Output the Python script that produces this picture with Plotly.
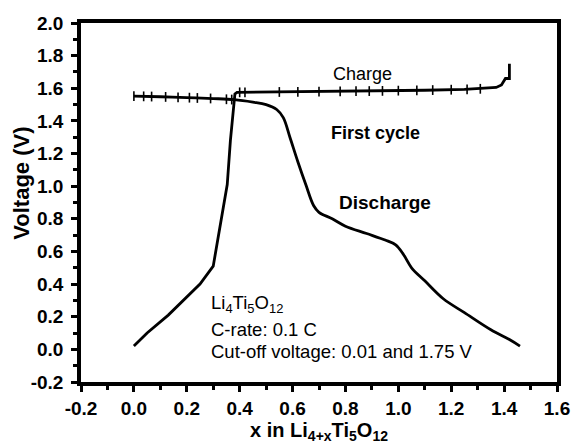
import numpy as np
import plotly.graph_objects as go

# Discharge curve (x increasing, voltage decreasing)
discharge_x = [0.0, 0.1, 0.2, 0.3, 0.38, 0.45, 0.5, 0.54, 0.565, 0.59, 0.62, 0.65, 0.68, 0.70,
               0.75, 0.80, 0.88, 0.95, 0.99, 1.02, 1.05, 1.10, 1.17, 1.25, 1.35, 1.42, 1.46]
discharge_y = [1.552, 1.548, 1.543, 1.537, 1.53, 1.515, 1.50, 1.47, 1.42, 1.30, 1.15, 1.01, 0.88, 0.84,
               0.80, 0.755, 0.71, 0.67, 0.64, 0.58, 0.50, 0.42, 0.31, 0.225, 0.12, 0.06, 0.02]

# Charge curve
charge_x = [0.0, 0.05, 0.13, 0.2, 0.25, 0.30, 0.31, 0.328, 0.353, 0.365, 0.378, 0.382, 0.39,
            0.6, 0.9, 1.1, 1.25, 1.33, 1.37, 1.39, 1.405, 1.42, 1.42]
charge_y = [0.02, 0.10, 0.21, 0.32, 0.40, 0.51, 0.60, 0.78, 1.01, 1.28, 1.50, 1.565, 1.575,
            1.578, 1.583, 1.588, 1.593, 1.598, 1.605, 1.62, 1.66, 1.66, 1.75]

# Positions of the small vertical tick markers along the plateaus
discharge_tick_x = [0.0, 0.037, 0.067, 0.12, 0.167, 0.21, 0.24, 0.29, 0.35, 0.37]
charge_tick_x = [0.40, 0.42, 0.55, 0.62, 0.70, 0.78, 0.84, 0.89, 0.94, 1.0, 1.07, 1.13, 1.20, 1.26, 1.31]

x_ticks = [-0.2, 0.0, 0.2, 0.4, 0.6, 0.8, 1.0, 1.2, 1.4, 1.6]
y_ticks = [-0.2, 0.0, 0.2, 0.4, 0.6, 0.8, 1.0, 1.2, 1.4, 1.6, 1.8, 2.0]

FONT = "Liberation Sans"
line_style = dict(color="black", width=2.8)

fig = go.Figure()
fig.add_trace(go.Scatter(x=discharge_x, y=discharge_y, mode="lines", line=line_style,
                         line_shape="spline", showlegend=False))
fig.add_trace(go.Scatter(x=charge_x, y=charge_y, mode="lines", line=line_style,
                         showlegend=False))
fig.add_trace(go.Scatter(x=discharge_tick_x,
                         y=np.interp(discharge_tick_x, discharge_x, discharge_y),
                         mode="markers",
                         marker=dict(symbol="line-ns", size=7, line=dict(color="black", width=1.6)),
                         showlegend=False))
fig.add_trace(go.Scatter(x=charge_tick_x,
                         y=np.interp(charge_tick_x, charge_x, charge_y),
                         mode="markers",
                         marker=dict(symbol="line-ns", size=7, line=dict(color="black", width=1.6)),
                         showlegend=False))

axis_common = dict(
    showline=True, linecolor="black", linewidth=3.5, mirror=True,
    ticks="outside", ticklen=6, tickwidth=3, tickcolor="black",
    showgrid=False, zeroline=False,
    tickfont=dict(family=FONT, size=19, color="black"),
)

fig.update_xaxes(
    range=[-0.2, 1.6], tickvals=x_ticks, ticktext=[f"<b>{v:.1f}</b>" for v in x_ticks],
    minor=dict(ticks="outside", ticklen=4, tickwidth=2.5, tickcolor="black", dtick=0.1, tick0=0),
    title=dict(text="<b>x in Li<sub>4+x</sub>Ti<sub>5</sub>O<sub>12</sub></b>",
               font=dict(family=FONT, size=20, color="black"), standoff=2),
    ticklabelstandoff=0,
    **axis_common)
fig.update_yaxes(
    range=[-0.2, 2.0], tickvals=y_ticks, ticktext=[f"<b>{v:.1f}</b>" for v in y_ticks],
    minor=dict(ticks="outside", ticklen=4, tickwidth=2.5, tickcolor="black", dtick=0.1, tick0=0),
    ticklabelstandoff=4,
    **axis_common)

# y-axis title placed as a rotated annotation (slightly above plot centre, as in the reference)
fig.add_annotation(xref="paper", yref="paper", x=-0.124, y=0.555, text="<b>Voltage (V)</b>",
                   textangle=-90, showarrow=False, xanchor="center", yanchor="middle",
                   font=dict(family=FONT, size=22, color="black"))

annots = [
    (0.865, 1.687, "Charge", 18),
    (0.915, 1.325, "<b>First cycle</b>", 18),
    (0.95, 0.90, "<b>Discharge</b>", 19),
]
for x, y, t, s in annots:
    fig.add_annotation(x=x, y=y, text=t, showarrow=False,
                       font=dict(family=FONT, size=s, color="black"),
                       xanchor="center", yanchor="middle")

info = [
    (0.283, 0.276, "Li<sub>4</sub>Ti<sub>5</sub>O<sub>12</sub>"),
    (0.283, 0.123, "C-rate: 0.1 C"),
    (0.283, -0.012, "Cut-off voltage: 0.01 and 1.75 V"),
]
for x, y, t in info:
    fig.add_annotation(x=x, y=y, text=t, showarrow=False, xanchor="left", yanchor="middle",
                       font=dict(family=FONT, size=18.5, color="black"))

fig.update_layout(
    width=582, height=448,
    margin=dict(l=81, r=17, t=23, b=66),
    paper_bgcolor="white", plot_bgcolor="white",
    font=dict(family=FONT, color="black"),
)

fig.write_html("out.html")
